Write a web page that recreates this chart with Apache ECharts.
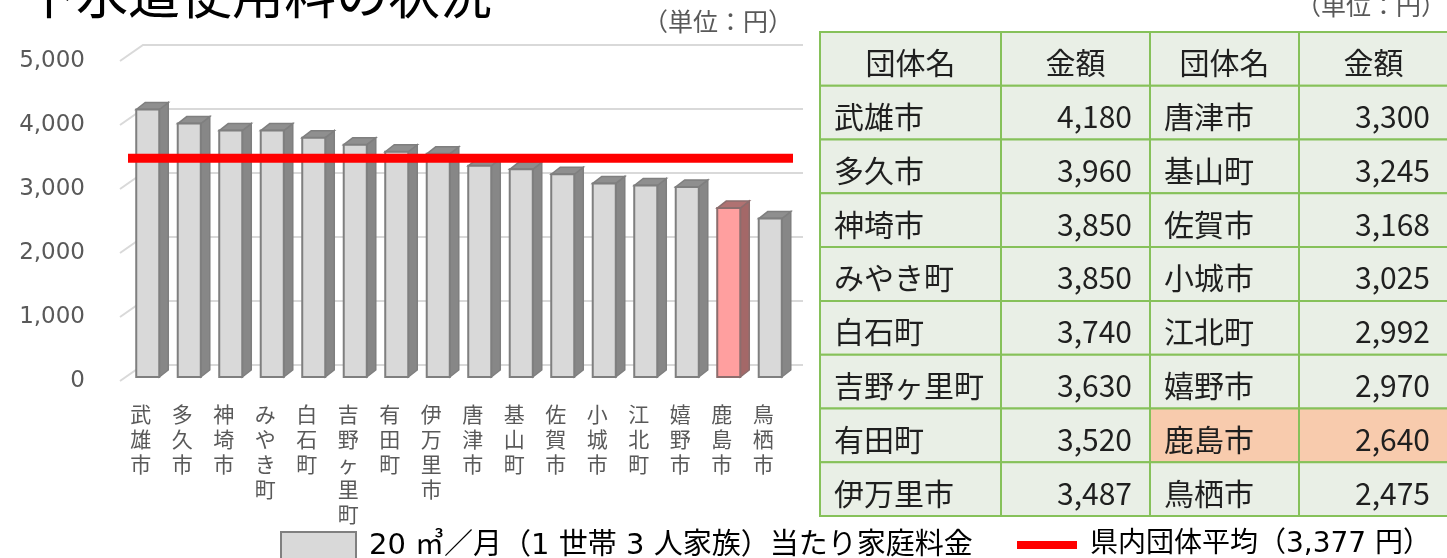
<!DOCTYPE html>
<html>
<head>
<meta charset="utf-8">
<script src="https://cdn.jsdelivr.net/npm/echarts@6/dist/echarts.min.js"></script>
<style>
html,body{margin:0;padding:0;background:#fff;}
#chart{width:1447px;height:558px;}
</style>
</head>
<body>
<div id="chart"></div>
<script>
// ---- data ----
const names = ['武雄市','多久市','神埼市','みやき町','白石町','吉野ヶ里町','有田町','伊万里市','唐津市','基山町','佐賀市','小城市','江北町','嬉野市','鹿島市','鳥栖市'];
const values = [4180,3960,3850,3850,3740,3630,3520,3487,3300,3245,3168,3025,2992,2970,2640,2475];
const average = 3377;
const yTicks = [0,1000,2000,3000,4000,5000];
const highlightName = '鹿島市';
const tableHeader = ['団体名','金額','団体名','金額'];
const barSeriesName = '20 ㎥／月（1 世帯 3 人家族）当たり家庭料金';
const avgSeriesName = '県内団体平均（3,377 円）';
const titleText = '下水道使用料の状況';
const unitText = '（単位：円）';

// ---- layout / style ----
const CJK = '"Noto Sans CJK JP"';
const fmt = v => Number(v).toLocaleString('en-US');
const colW = [181,149,149,149];
const half = Math.ceil(names.length/2);

// table cells built from the data arrays
const cells = [];
tableHeader.forEach((t,c)=>cells.push({value:[c,0], text:t, kind:'head'}));
for(let r=0;r<half;r++){
  const i1=r, i2=r+half;
  cells.push({value:[0,r+1], text:names[i1], kind:'name', hl:names[i1]===highlightName});
  cells.push({value:[1,r+1], text:fmt(values[i1]), kind:'num', hl:names[i1]===highlightName});
  if(i2<names.length){
    cells.push({value:[2,r+1], text:names[i2], kind:'name', hl:names[i2]===highlightName});
    cells.push({value:[3,r+1], text:fmt(values[i2]), kind:'num', hl:names[i2]===highlightName});
  }
}
const rowCats = [];
for(let r=0;r<=half;r++) rowCats.push(String(r));

const chart = echarts.init(document.getElementById('chart'));

const option = {
  animation:false,
  backgroundColor:'#ffffff',
  graphic:[
    {type:'text', z:10, style:{text:titleText, x:24, y:20, verticalAlign:'bottom', font:'52px '+CJK, fill:'#000',
      shadowColor:'rgba(0,0,0,0.35)', shadowBlur:3, shadowOffsetX:2, shadowOffsetY:2}},
    {type:'text', style:{text:unitText, x:793, y:21, align:'right', verticalAlign:'middle', font:'25px '+CJK, fill:'#595959'}},
    {type:'text', style:{text:unitText, x:1446, y:5, align:'right', verticalAlign:'middle', font:'25px '+CJK, fill:'#595959'}}
  ],
  legend:[
    {data:[{name:barSeriesName, icon:'rect', itemStyle:{color:'#d9d9d9', borderColor:'#808080', borderWidth:2}}],
     left:280, top:531, itemWidth:75, itemHeight:28, padding:0,
     textStyle:{fontSize:29, color:'#000', fontFamily:'"DejaVu Sans", '+CJK, padding:[0,0,0,8]}},
    {data:[{name:avgSeriesName, icon:'rect', itemStyle:{color:'#ff0000', borderWidth:0}}],
     left:1017, top:531, itemWidth:60, itemHeight:8, padding:0,
     textStyle:{fontSize:28, color:'#000', fontFamily:'"DejaVu Sans", '+CJK, padding:[0,0,0,8]}}
  ],
  grid:[
    {left:120, top:61, width:664, height:320},
    {left:820, top:32, width:628, height:484}
  ],
  xAxis:[
    {gridIndex:0, type:'category', data:names,
     axisLine:{show:false}, axisTick:{show:false},
     axisLabel:{interval:0, margin:21, color:'#595959', fontSize:21, lineHeight:25, fontFamily:CJK,
       verticalAlign:'top', formatter:v=>v.split('').join('\n')}},
    {gridIndex:1, type:'category', data:['0','1','2','3'], show:false}
  ],
  yAxis:[
    {gridIndex:0, type:'value', min:0, max:5000, interval:1000,
     axisLine:{show:false}, axisTick:{show:false}, splitLine:{show:false},
     axisLabel:{margin:35, color:'#595959', fontSize:23, fontFamily:'"DejaVu Sans"', formatter:v=>fmt(v)}},
    {gridIndex:1, type:'category', data:rowCats, inverse:true, show:false}
  ],
  series:[
    { // back wall + side wall gridlines
      type:'custom', name:'grid', xAxisIndex:0, yAxisIndex:0, z:1, silent:true,
      data:yTicks.map(v=>[0,v]),
      renderItem(params, api){
        const cs = params.coordSys;
        const y = api.coord([0, api.value(1)])[1];
        return {type:'polyline', shape:{points:[[cs.x,y],[cs.x+23,y-16],[cs.x+cs.width+19,y-16]]},
          style:{stroke:'#d9d9d9', lineWidth:2, fill:null}};
      }
    },
    { // pseudo-3D bars
      type:'custom', name:barSeriesName, xAxisIndex:0, yAxisIndex:0, z:2,
      itemStyle:{color:'#d9d9d9', borderColor:'#808080', borderWidth:2},
      data:values.map((v,i)=>[i,v]),
      encode:{x:0, y:1},
      renderItem(params, api){
        const i = api.value(0), v = api.value(1);
        const top = api.coord([i, v]);
        const base = api.coord([i, 0]);
        const band = api.size([1,0])[0];
        const w = band*0.555;
        const dx = 9, dy = 7;
        const x0 = top[0] - w/2 + 7;
        const yt = top[1] - 4, yb = base[1] - 4;
        const hl = names[i] === highlightName;
        const front = hl ? '#ff9f9f' : '#d9d9d9';
        const side = hl ? '#a46868' : '#878787';
        const topc = hl ? '#b07272' : '#8f8f8f';
        const stroke = hl ? '#8c6d6d' : '#7f7f7f';
        return {type:'group', children:[
          {type:'polygon', shape:{points:[[x0+w,yt],[x0+w+dx,yt-dy],[x0+w+dx,yb-dy],[x0+w,yb]]},
            style:{fill:side, stroke:stroke, lineWidth:1.5}},
          {type:'polygon', shape:{points:[[x0,yt],[x0+dx,yt-dy],[x0+w+dx,yt-dy],[x0+w,yt]]},
            style:{fill:topc, stroke:stroke, lineWidth:1.5}},
          {type:'rect', shape:{x:x0, y:yt, width:w, height:yb-yt},
            style:{fill:front, stroke:stroke, lineWidth:2}}
        ]};
      }
    },
    { // prefecture average line
      type:'custom', name:avgSeriesName, xAxisIndex:0, yAxisIndex:0, z:3,
      itemStyle:{color:'#ff0000'},
      data:[[0, average]],
      renderItem(params, api){
        const cs = params.coordSys;
        const y = api.coord([0, api.value(1)])[1] - 6.5;
        return {type:'line', shape:{x1:cs.x+8, y1:y, x2:cs.x+cs.width+9, y2:y},
          style:{stroke:'#ff0000', lineWidth:9}};
      }
    },
    { // data table
      type:'custom', name:'table', xAxisIndex:1, yAxisIndex:1, z:4, silent:true,
      data:cells,
      renderItem(params, api){
        const cell = cells[params.dataIndex];
        const c = api.value(0), r = api.value(1);
        const cs = params.coordSys;
        const ctr = api.coord([c, r]);
        const h = api.size([0,1])[1];
        let x = cs.x; for(let k=0;k<c;k++) x += colW[k];
        const w = colW[c];
        const y = ctr[1] - h/2;
        let tx, align;
        if(cell.kind==='head'){ tx = x + w/2; align='center'; }
        else if(cell.kind==='name'){ tx = x + 14; align='left'; }
        else { tx = x + w - 18; align='right'; }
        return {type:'group', children:[
          {type:'rect', shape:{x:x, y:y, width:w, height:h},
            style:{fill: cell.hl ? '#f8cbad' : '#e9efe6', stroke:'#86c15a', lineWidth:2}},
          {type:'text', style:{text:cell.text, x:tx, y:ctr[1]+4, align:align, verticalAlign:'middle',
            font:'30px '+CJK, fill:'#1f1f1f'}}
        ]};
      }
    }
  ]
};
chart.setOption(option);
</script>
</body>
</html>
